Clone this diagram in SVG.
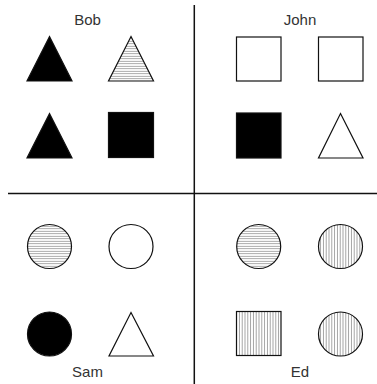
<svg xmlns="http://www.w3.org/2000/svg" width="377" height="384" viewBox="0 0 377 384">
<style>
.lbl{font-family:"Liberation Sans",Arial,sans-serif;font-size:15px;fill:#333;text-anchor:middle}
.s{stroke:#111;stroke-width:1.2}
.w{fill:#fff}
.b{fill:#000}
.h{fill:url(#hz)}
.v{fill:url(#vt)}
.div{stroke:#111;stroke-width:1.5;fill:none}
</style>
<defs>
<pattern id="hz" patternUnits="userSpaceOnUse" width="10" height="2.5">
<rect width="10" height="2.5" fill="#fff"/>
<line x1="0" y1="1.25" x2="10" y2="1.25" stroke="#888" stroke-width="0.8"/>
</pattern>
<pattern id="vt" patternUnits="userSpaceOnUse" width="2.8" height="10">
<rect width="2.8" height="10" fill="#fff"/>
<line x1="1.4" y1="0" x2="1.4" y2="10" stroke="#888" stroke-width="0.8"/>
</pattern>
</defs>
<g id="dividers">
<line class="div" x1="194.3" y1="5" x2="194.3" y2="384"/>
<line class="div" x1="8" y1="193.5" x2="377" y2="193.5"/>
</g>
<g id="bob">
<text class="lbl" x="87.5" y="24.5">Bob</text>
<polygon class="s b" points="49.5,36.5 72,81 27,81"/>
<polygon class="s h" points="131,36.5 153.5,81 108.5,81"/>
<polygon class="s b" points="49.5,113.5 72,158 27,158"/>
<rect class="s b" x="108.5" y="112.5" width="45" height="45"/>
</g>
<g id="john">
<text class="lbl" x="300" y="24.5">John</text>
<rect class="s w" x="236.5" y="37" width="44.5" height="44"/>
<rect class="s w" x="318.5" y="37" width="44.5" height="44"/>
<rect class="s b" x="236.5" y="113" width="44.5" height="45"/>
<polygon class="s w" points="340.5,113.5 363,158 318.5,158"/>
</g>
<g id="sam">
<circle class="s h" cx="49.5" cy="246.5" r="22"/>
<circle class="s w" cx="131" cy="246.5" r="22"/>
<circle class="s b" cx="49.5" cy="334" r="22"/>
<polygon class="s w" points="131,312.5 153.5,356 109,356"/>
<text class="lbl" x="87.5" y="376.5">Sam</text>
</g>
<g id="ed">
<circle class="s h" cx="258.7" cy="246.5" r="22"/>
<circle class="s v" cx="340.5" cy="246.5" r="22"/>
<rect class="s v" x="236.5" y="311.5" width="44.5" height="44"/>
<circle class="s v" cx="340.5" cy="334" r="22"/>
<text class="lbl" x="300" y="376.5">Ed</text>
</g>
</svg>
